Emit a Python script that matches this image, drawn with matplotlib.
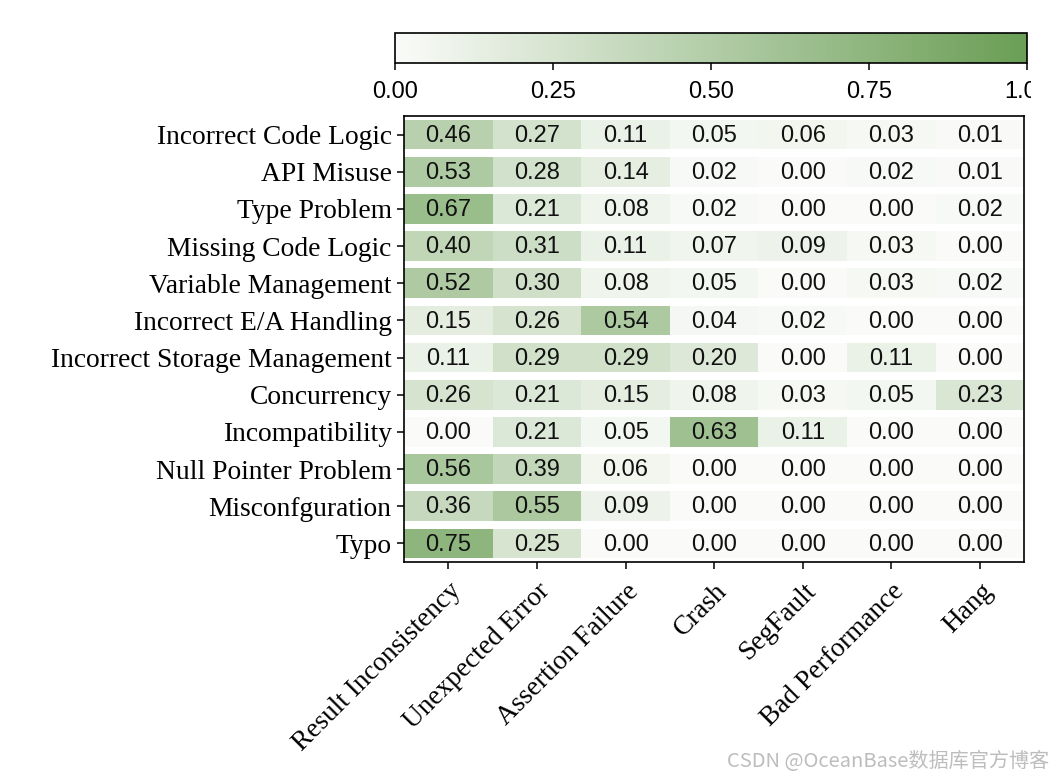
import numpy as np
import matplotlib
matplotlib.use("Agg")
import matplotlib.pyplot as plt
from matplotlib.colors import LinearSegmentedColormap, Normalize
from matplotlib.cm import ScalarMappable
from matplotlib.transforms import Bbox

root_causes = ["Incorrect Code Logic", "API Misuse", "Type Problem", "Missing Code Logic",
               "Variable Management", "Incorrect E/A Handling", "Incorrect Storage Management",
               "Concurrency", "Incompatibility", "Null Pointer Problem", "Misconfguration", "Typo"]
symptoms = ["Result Inconsistency", "Unexpected Error", "Assertion Failure", "Crash",
            "SegFault", "Bad Performance", "Hang"]

result_inconsistency = [0.46, 0.53, 0.67, 0.40, 0.52, 0.15, 0.11, 0.26, 0.00, 0.56, 0.36, 0.75]
unexpected_error     = [0.27, 0.28, 0.21, 0.31, 0.30, 0.26, 0.29, 0.21, 0.21, 0.39, 0.55, 0.25]
assertion_failure    = [0.11, 0.14, 0.08, 0.11, 0.08, 0.54, 0.29, 0.15, 0.05, 0.06, 0.09, 0.00]
crash                = [0.05, 0.02, 0.02, 0.07, 0.05, 0.04, 0.20, 0.08, 0.63, 0.00, 0.00, 0.00]
segfault             = [0.06, 0.00, 0.00, 0.09, 0.00, 0.02, 0.00, 0.03, 0.11, 0.00, 0.00, 0.00]
bad_performance      = [0.03, 0.02, 0.00, 0.03, 0.03, 0.00, 0.11, 0.05, 0.00, 0.00, 0.00, 0.00]
hang                 = [0.01, 0.01, 0.02, 0.00, 0.02, 0.00, 0.00, 0.23, 0.00, 0.00, 0.00, 0.00]

columns = [result_inconsistency, unexpected_error, assertion_failure, crash,
           segfault, bad_performance, hang]
cbar_ticks = [0.00, 0.25, 0.50, 0.75, 1.00]

cmap = LinearSegmentedColormap.from_list("greens", ["#fafbf9", "#6a9e55"])
norm = Normalize(0, 1)

SERIF = ["Liberation Serif", "DejaVu Serif"]
SANS = ["Liberation Sans", "DejaVu Sans"]

fig = plt.figure(figsize=(10.58, 7.76), dpi=100)
ax = fig.add_axes([0.382, 0.2758, 0.586, 0.5747])

ypos = np.arange(len(root_causes))
for j, col in enumerate(columns):
    vals = np.array(col)
    ax.barh(ypos, 1.0, left=j - 0.5, height=0.8, color=cmap(norm(vals)), linewidth=0)
    for i, v in enumerate(vals):
        ax.text(j, i + 0.03, f"{v:.2f}", ha="center", va="center", fontsize=17,
                family=SANS, color="#111111")

ax.set_xlim(-0.5, len(symptoms) - 0.5)
ax.set_ylim(len(root_causes) - 0.5, -0.5)
ax.set_yticks(ypos)
ax.set_yticklabels(root_causes, family=SERIF, fontsize=19.8)
ax.set_xticks(np.arange(len(symptoms)))
ax.set_xticklabels(symptoms, family=SERIF, fontsize=19.6, rotation=45,
                   ha="right", rotation_mode="anchor")
ax.tick_params(axis="both", length=5, width=1.1)
ax.tick_params(axis="y", pad=4)
ax.tick_params(axis="x", pad=7)
for s in ax.spines.values():
    s.set_linewidth(1.2)

cax = fig.add_axes([0.3733, 0.9188, 0.5974, 0.0387])
cb = fig.colorbar(ScalarMappable(norm=norm, cmap=cmap), cax=cax,
                  orientation="horizontal", ticks=cbar_ticks)
cb.ax.set_xticklabels([f"{t:.2f}" for t in cbar_ticks], family=SANS, fontsize=17)
cb.ax.tick_params(length=5, width=1.1, pad=8)
cb.outline.set_linewidth(1.2)

# the reference image is cropped at the right, cutting the last colorbar label
clip = Bbox.from_extents(0, 0, 1031, 776)
for lab in cb.ax.get_xticklabels():
    lab.set_clip_box(clip)
    lab.set_clip_on(True)

fig.text(0.992, 0.005, "CSDN @OceanBase数据库官方博客", ha="right", va="bottom",
         fontsize=14.5, color="#bdbdbd", family=["Noto Sans CJK SC", "DejaVu Sans"])

fig.savefig("out.png", dpi=100)
